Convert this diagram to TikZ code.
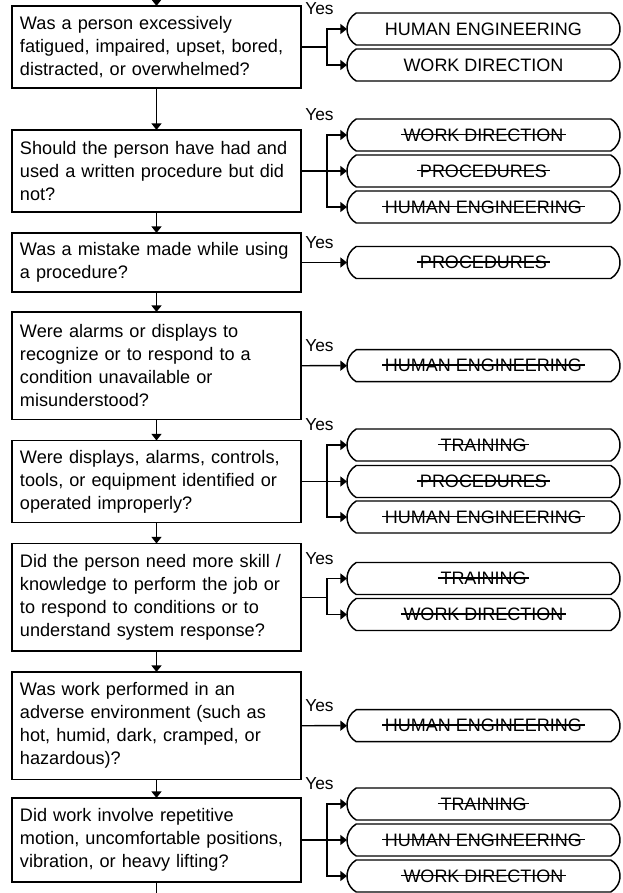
\documentclass[tikz,border=0pt]{standalone}
\usepackage{fontspec}
\setmainfont{Liberation Sans}
\usetikzlibrary{positioning, shapes.misc, arrows.meta}

% struck-through label text
\newsavebox\strikebox
\newcommand\struck[1]{\sbox\strikebox{#1}\rlap{\hspace{-2pt}\rule[0.33em]{\dimexpr\wd\strikebox+4pt\relax}{1.2pt}}\usebox\strikebox}

\begin{document}
\begin{tikzpicture}[x=0.75pt, y=-0.75pt,
    question/.style={draw, line width=1.1pt, anchor=north west, text width=204.75pt, outer sep=0pt,
      inner xsep=6pt, inner ysep=0pt, align=left, font=\fontsize{13.6}{17.25}\selectfont},
    outcome/.style={draw, line width=1.1pt, rounded rectangle, rounded rectangle arc length=120,
      minimum width=204.75pt, minimum height=24pt, inner sep=0pt, outer sep=0pt, anchor=west,
      font=\fontsize{13.5}{16}\selectfont},
    yeslabel/.style={anchor=west, inner sep=0pt, font=\fontsize{13}{15}\selectfont},
    link/.style={line width=1.1pt, -{Triangle[length=5pt, width=7.5pt]}},
    wire/.style={line width=1.1pt}]
        \useasboundingbox (0,0) rectangle (623,893);

        % Questions
        \node[question, minimum height=61.5pt] (q1) at (12,6)
          {Was a person excessively\\fatigued, impaired, upset, bored,\\distracted, or overwhelmed?};
        \node[question, minimum height=61.5pt] (q2) at (12,130)
          {Should the person have had and\\used a written procedure but did\\not?};
        \node[question, minimum height=44.25pt] (q3) at (12,233)
          {Was a mistake made while using\\a procedure?};
        \node[question, minimum height=80.6pt] (q4) at (12,312)
          {Were alarms or displays to\\recognize or to respond to a\\condition unavailable or\\misunderstood?};
        \node[question, minimum height=61.5pt] (q5) at (12,440.5)
          {Were displays, alarms, controls,\\tools, or equipment identified or\\operated improperly?};
        \node[question, minimum height=80.6pt] (q6) at (12,543.5)
          {Did the person need more skill /\\knowledge to perform the job or\\to respond to conditions or to\\understand system response?};
        \node[question, minimum height=80.6pt] (q7) at (12,672)
          {Was work performed in an\\adverse environment (such as\\hot, humid, dark, cramped, or\\hazardous)?};
        \node[question, minimum height=63pt] (q8) at (12,798)
          {Did work involve repetitive\\motion, uncomfortable positions,\\vibration, or heavy lifting?};

        % Outcomes
        \node[outcome] (o1a) at (347,29) {HUMAN ENGINEERING};
        \node[outcome] (o1b) at (347,65) {WORK DIRECTION};
        \node[outcome] (o2a) at (347,135) {\struck{WORK DIRECTION}};
        \node[outcome] (o2b) at (347,171) {\struck{PROCEDURES}};
        \node[outcome] (o2c) at (347,207) {\struck{HUMAN ENGINEERING}};
        \node[outcome] (o3) at (347,262.5) {\struck{PROCEDURES}};
        \node[outcome] (o4) at (347,365.7) {\struck{HUMAN ENGINEERING}};
        \node[outcome] (o5a) at (347,445) {\struck{TRAINING}};
        \node[outcome] (o5b) at (347,481.5) {\struck{PROCEDURES}};
        \node[outcome] (o5c) at (347,517) {\struck{HUMAN ENGINEERING}};
        \node[outcome] (o6a) at (347,578.5) {\struck{TRAINING}};
        \node[outcome] (o6b) at (347,614.5) {\struck{WORK DIRECTION}};
        \node[outcome] (o7) at (347,725.7) {\struck{HUMAN ENGINEERING}};
        \node[outcome] (o8a) at (347,804) {\struck{TRAINING}};
        \node[outcome] (o8b) at (347,840) {\struck{HUMAN ENGINEERING}};
        \node[outcome] (o8c) at (347,876) {\struck{WORK DIRECTION}};

        % Yes labels
        \node[yeslabel] (y1) at (305,9) {Yes};
        \node[yeslabel] (y2) at (305,115) {Yes};
        \node[yeslabel] (y3) at (305,242.5) {Yes};
        \node[yeslabel] (y4) at (305,345.5) {Yes};
        \node[yeslabel] (y5) at (305,425) {Yes};
        \node[yeslabel] (y6) at (305,558.5) {Yes};
        \node[yeslabel] (y7) at (305,705.5) {Yes};
        \node[yeslabel] (y8) at (305,784) {Yes};

        % Main line
        \coordinate (start) at (156.5,-3);
        \coordinate (finish) at (156.5,900);
        \draw[link] (start) -- (q1.north);
        \draw[link] (q1.south) -- (q2.north);
        \draw[link] (q2.south) -- (q3.north);
        \draw[link] (q3.south) -- (q4.north);
        \draw[link] (q4.south) -- (q5.north);
        \draw[link] (q5.south) -- (q6.north);
        \draw[link] (q6.south) -- (q7.north);
        \draw[link] (q7.south) -- (q8.north);
        \draw[wire] (q8.south) -- (finish);

        % Branches
        \coordinate (b1) at ([xshift=19.5pt]q1.east);
        \coordinate (b2) at ([xshift=19.5pt]q2.east);
        \coordinate (b5) at ([xshift=19.5pt]q5.east);
        \coordinate (b6) at ([xshift=19.5pt]q6.east);
        \coordinate (b8) at ([xshift=19.5pt]q8.east);

        \draw[wire] (q1.east) -- (b1);
        \draw[link] (b1) |- (o1a.west);
        \draw[link] (b1) |- (o1b.west);

        \draw[wire] (q2.east) -- (b2);
        \draw[link] (b2) |- (o2a.west);
        \draw[link] (b2) |- (o2b.west);
        \draw[link] (b2) |- (o2c.west);

        \draw[link] (q3.east) -- (o3.west);
        \draw[link] (q4.east) -- (o4.west);

        \draw[wire] (q5.east) -- (b5);
        \draw[link] (b5) |- (o5a.west);
        \draw[link] (b5) |- (o5b.west);
        \draw[link] (b5) |- (o5c.west);

        \draw[wire] (q6.east) -- (b6);
        \draw[link] (b6) |- (o6a.west);
        \draw[link] (b6) |- (o6b.west);

        \draw[link] (q7.east) -- (o7.west);

        \draw[wire] (q8.east) -- (b8);
        \draw[link] (b8) |- (o8a.west);
        \draw[link] (b8) |- (o8b.west);
        \draw[link] (b8) |- (o8c.west);
\end{tikzpicture}
\end{document}
